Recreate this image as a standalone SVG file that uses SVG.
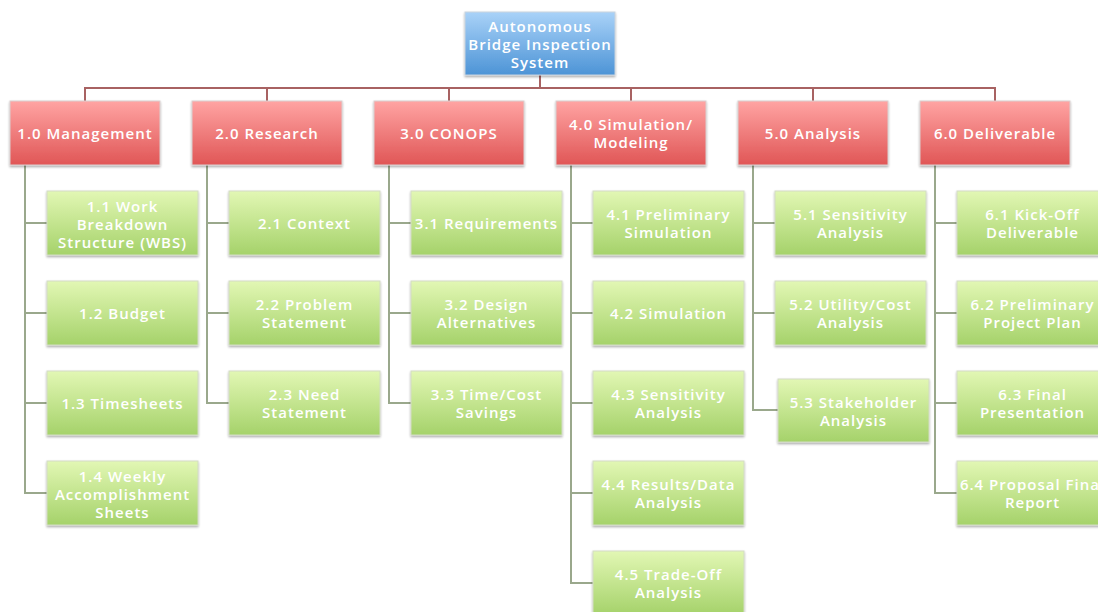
<svg xmlns="http://www.w3.org/2000/svg" width="1098" height="612" viewBox="0 0 1098 612">
<style>
.t{font-family:"Open Sans","Liberation Sans",sans-serif;font-weight:600;font-size:15px;letter-spacing:1px;fill:#fff;text-anchor:middle;dominant-baseline:central}
.red{fill:url(#gr);stroke:#d9d0d0;stroke-width:1}
.grn{fill:url(#gg);stroke:#d3dcc6;stroke-width:1}
.blu{fill:url(#gb);stroke:#c9d3de;stroke-width:1}
.cr{fill:none;stroke:#a86262;stroke-width:2}
.cg{fill:none;stroke:#9aa88c;stroke-width:2}
</style>
<defs>
<linearGradient id="gr" x1="0" y1="0" x2="0" y2="1"><stop offset="0" stop-color="#ffa4a3"/><stop offset="1" stop-color="#e05656"/></linearGradient>
<linearGradient id="gg" x1="0" y1="0" x2="0" y2="1"><stop offset="0" stop-color="#e2f7b4"/><stop offset="1" stop-color="#a5d26a"/></linearGradient>
<linearGradient id="gb" x1="0" y1="0" x2="0" y2="1"><stop offset="0" stop-color="#a9d2f8"/><stop offset="1" stop-color="#4d94d6"/></linearGradient>
<filter id="sh" x="-10%" y="-10%" width="120%" height="130%"><feDropShadow dx="0" dy="1.5" stdDeviation="1.2" flood-color="#000" flood-opacity="0.35"/></filter>
</defs>
<rect width="1098" height="612" fill="#fff"/>
<g id="connectors">
<path class="cr" d="M540 75V88M85 101V88H995V101M267 88V101M449 88V101M631 88V101M813 88V101"/>
<path class="cg" d="M25 165V493H47M25 223H47M25 313H47M25 403H47"/>
<path class="cg" d="M207 165V403H229M207 223H229M207 313H229"/>
<path class="cg" d="M389 165V403H411M389 223H411M389 313H411"/>
<path class="cg" d="M571 165V583H593M571 223H593M571 313H593M571 403H593M571 493H593"/>
<path class="cg" d="M753 165V410H778M753 223H775M753 313H775"/>
<path class="cg" d="M935 165V493H957M935 223H957M935 313H957M935 403H957"/>
</g>
<g id="root"><rect class="blu" filter="url(#sh)" x="465" y="12" width="150" height="63"/><text class="t"><tspan x="540" y="26">Autonomous</tspan><tspan x="540" y="44">Bridge Inspection</tspan><tspan x="540" y="62">System</tspan></text></g>
<g id="n1"><rect class="red" filter="url(#sh)" x="10" y="101" width="150" height="64"/><text class="t" x="85" y="133">1.0 Management</text></g>
<g id="n2"><rect class="red" filter="url(#sh)" x="192" y="101" width="150" height="64"/><text class="t" x="267" y="133">2.0 Research</text></g>
<g id="n3"><rect class="red" filter="url(#sh)" x="374" y="101" width="150" height="64"/><text class="t" x="449" y="133">3.0 CONOPS</text></g>
<g id="n4"><rect class="red" filter="url(#sh)" x="556" y="101" width="150" height="64"/><text class="t"><tspan x="631" y="124">4.0 Simulation/</tspan><tspan x="631" y="142">Modeling</tspan></text></g>
<g id="n5"><rect class="red" filter="url(#sh)" x="738" y="101" width="150" height="64"/><text class="t" x="813" y="133">5.0 Analysis</text></g>
<g id="n6"><rect class="red" filter="url(#sh)" x="920" y="101" width="150" height="64"/><text class="t" x="995" y="133">6.0 Deliverable</text></g>

<g id="n1_1"><rect class="grn" filter="url(#sh)" x="47" y="191" width="151" height="64"/><text class="t"><tspan x="122.5" y="206">1.1 Work</tspan><tspan x="122.5" y="224">Breakdown</tspan><tspan x="122.5" y="242">Structure (WBS)</tspan></text></g>
<g id="n1_2"><rect class="grn" filter="url(#sh)" x="47" y="281" width="151" height="64"/><text class="t" x="122.5" y="313">1.2 Budget</text></g>
<g id="n1_3"><rect class="grn" filter="url(#sh)" x="47" y="371" width="151" height="64"/><text class="t" x="122.5" y="403">1.3 Timesheets</text></g>
<g id="n1_4"><rect class="grn" filter="url(#sh)" x="47" y="461" width="151" height="64"/><text class="t"><tspan x="122.5" y="476">1.4 Weekly</tspan><tspan x="122.5" y="494">Accomplishment</tspan><tspan x="122.5" y="512">Sheets</tspan></text></g>

<g id="n2_1"><rect class="grn" filter="url(#sh)" x="229" y="191" width="151" height="64"/><text class="t" x="304.5" y="223">2.1 Context</text></g>
<g id="n2_2"><rect class="grn" filter="url(#sh)" x="229" y="281" width="151" height="64"/><text class="t"><tspan x="304.5" y="304">2.2 Problem</tspan><tspan x="304.5" y="322">Statement</tspan></text></g>
<g id="n2_3"><rect class="grn" filter="url(#sh)" x="229" y="371" width="151" height="64"/><text class="t"><tspan x="304.5" y="394">2.3 Need</tspan><tspan x="304.5" y="412">Statement</tspan></text></g>

<g id="n3_1"><rect class="grn" filter="url(#sh)" x="411" y="191" width="151" height="64"/><text class="t" x="486.5" y="223">3.1 Requirements</text></g>
<g id="n3_2"><rect class="grn" filter="url(#sh)" x="411" y="281" width="151" height="64"/><text class="t"><tspan x="486.5" y="304">3.2 Design</tspan><tspan x="486.5" y="322">Alternatives</tspan></text></g>
<g id="n3_3"><rect class="grn" filter="url(#sh)" x="411" y="371" width="151" height="64"/><text class="t"><tspan x="486.5" y="394">3.3 Time/Cost</tspan><tspan x="486.5" y="412">Savings</tspan></text></g>

<g id="n4_1"><rect class="grn" filter="url(#sh)" x="593" y="191" width="151" height="64"/><text class="t"><tspan x="668.5" y="214">4.1 Preliminary</tspan><tspan x="668.5" y="232">Simulation</tspan></text></g>
<g id="n4_2"><rect class="grn" filter="url(#sh)" x="593" y="281" width="151" height="64"/><text class="t" x="668.5" y="313">4.2 Simulation</text></g>
<g id="n4_3"><rect class="grn" filter="url(#sh)" x="593" y="371" width="151" height="64"/><text class="t"><tspan x="668.5" y="394">4.3 Sensitivity</tspan><tspan x="668.5" y="412">Analysis</tspan></text></g>
<g id="n4_4"><rect class="grn" filter="url(#sh)" x="593" y="461" width="151" height="64"/><text class="t"><tspan x="668.5" y="484">4.4 Results/Data</tspan><tspan x="668.5" y="502">Analysis</tspan></text></g>
<g id="n4_5"><rect class="grn" filter="url(#sh)" x="593" y="551" width="151" height="64"/><text class="t"><tspan x="668.5" y="574">4.5 Trade-Off</tspan><tspan x="668.5" y="592">Analysis</tspan></text></g>

<g id="n5_1"><rect class="grn" filter="url(#sh)" x="775" y="191" width="151" height="64"/><text class="t"><tspan x="850.5" y="214">5.1 Sensitivity</tspan><tspan x="850.5" y="232">Analysis</tspan></text></g>
<g id="n5_2"><rect class="grn" filter="url(#sh)" x="775" y="281" width="151" height="64"/><text class="t"><tspan x="850.5" y="304">5.2 Utility/Cost</tspan><tspan x="850.5" y="322">Analysis</tspan></text></g>
<g id="n5_3"><rect class="grn" filter="url(#sh)" x="778" y="379" width="151" height="63"/><text class="t"><tspan x="853.5" y="402">5.3 Stakeholder</tspan><tspan x="853.5" y="420">Analysis</tspan></text></g>

<g id="n6_1"><rect class="grn" filter="url(#sh)" x="957" y="191" width="151" height="64"/><text class="t"><tspan x="1032.5" y="214">6.1 Kick-Off</tspan><tspan x="1032.5" y="232">Deliverable</tspan></text></g>
<g id="n6_2"><rect class="grn" filter="url(#sh)" x="957" y="281" width="151" height="64"/><text class="t"><tspan x="1032.5" y="304">6.2 Preliminary</tspan><tspan x="1032.5" y="322">Project Plan</tspan></text></g>
<g id="n6_3"><rect class="grn" filter="url(#sh)" x="957" y="371" width="151" height="64"/><text class="t"><tspan x="1032.5" y="394">6.3 Final</tspan><tspan x="1032.5" y="412">Presentation</tspan></text></g>
<g id="n6_4"><rect class="grn" filter="url(#sh)" x="957" y="461" width="151" height="64"/><text class="t"><tspan x="1032.5" y="484">6.4 Proposal Final</tspan><tspan x="1032.5" y="502">Report</tspan></text></g>
</svg>
